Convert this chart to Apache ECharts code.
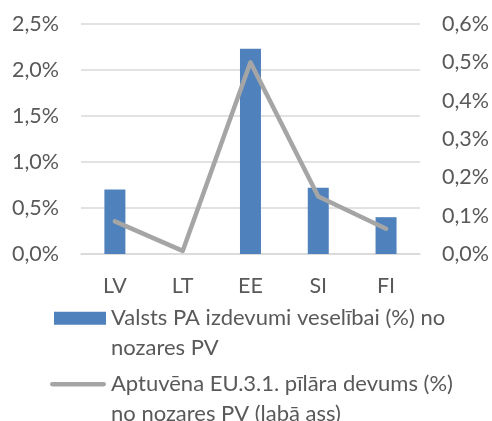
<!DOCTYPE html>
<html>
<head>
<meta charset="utf-8">
<script src="https://cdn.jsdelivr.net/npm/echarts@6/dist/echarts.min.js"></script>
<style>
  html, body { margin: 0; padding: 0; background: #fff; }
  #chart { width: 492px; height: 421px; }
</style>
</head>
<body>
<div id="chart"></div>
<script>
// Countries on the category axis
const categories = ['LV', 'LT', 'EE', 'SI', 'FI'];
// Public administration health spending, % of sector value added (left axis)
const healthSpending = [0.70, 0, 2.23, 0.72, 0.40];
// Approximate EU.3.1 pillar contribution, % of sector value added (right axis)
const pillarContribution = [0.085, 0.008, 0.50, 0.15, 0.066];
// Axis ranges and tick steps
const leftTicks = { min: 0, max: 2.5, interval: 0.5 };
const rightTicks = { min: 0, max: 0.6, interval: 0.1 };

const barName = 'Valsts PA izdevumi veselībai (%) no nozares PV';
const lineName = 'Aptuvēna EU.3.1. pīlāra devums (%) no nozares PV (labā ass)';
const barLabelLines = ['Valsts PA izdevumi veselībai (%) no', 'nozares PV'];
const lineLabelLines = ['Aptuvēna EU.3.1. pīlāra devums (%)', 'no nozares PV (labā ass)'];

const FONT = 'Lato';
const TEXT = '#595959';
const GRID = '#d9d9d9';
const BAR = '#4F81BD';
const LINE = '#A5A5A5';
const AXIS_SIZE = 21.5;
const LEGEND_SIZE = 22;
const fmtPct = v => v.toFixed(1).replace('.', ',') + '%';

// An empty first line keeps the icon level with the first text line
const legendText = lines => () => '\n' + lines.join('\n');
// Pill-shaped stroke for the line series key
const pillIcon = 'path://M2,0 H50 A2,2 0 0 1 50,4 H2 A2,2 0 0 1 2,0 Z';

const chart = echarts.init(document.getElementById('chart'), null, { renderer: 'canvas' });
chart.setOption({
  animation: false,
  textStyle: { fontFamily: FONT },
  grid: { left: 81, right: 72, top: 24, bottom: 167, containLabel: false },
  legend: [
    {
      data: [{ name: barName, icon: 'rect' }],
      left: 49, top: 269, orient: 'vertical',
      itemWidth: 52, itemHeight: 13,
      itemStyle: { color: BAR },
      formatter: legendText(barLabelLines),
      textStyle: { color: TEXT, fontSize: LEGEND_SIZE, lineHeight: 29.5, fontFamily: FONT }
    },
    {
      data: [{ name: lineName, icon: pillIcon }],
      left: 45, top: 335, orient: 'vertical',
      itemWidth: 56, itemHeight: 4.5,
      itemStyle: { color: LINE, borderWidth: 0 },
      lineStyle: { width: 0 },
      formatter: legendText(lineLabelLines),
      textStyle: { color: TEXT, fontSize: LEGEND_SIZE, lineHeight: 29.5, fontFamily: FONT }
    }
  ],
  xAxis: {
    type: 'category',
    data: categories,
    axisLine: { show: true, lineStyle: { color: GRID, width: 1.5 } },
    axisTick: { show: false },
    axisLabel: { color: TEXT, fontSize: AXIS_SIZE, margin: 21, fontFamily: FONT }
  },
  yAxis: [
    {
      type: 'value',
      min: leftTicks.min, max: leftTicks.max, interval: leftTicks.interval,
      axisLine: { show: false }, axisTick: { show: false },
      splitLine: { lineStyle: { color: GRID, width: 1.5 } },
      axisLabel: { color: TEXT, fontSize: AXIS_SIZE, margin: 22, formatter: fmtPct, fontFamily: FONT }
    },
    {
      type: 'value', position: 'right',
      min: rightTicks.min, max: rightTicks.max, interval: rightTicks.interval,
      axisLine: { show: false }, axisTick: { show: false },
      splitLine: { show: false },
      axisLabel: { color: TEXT, fontSize: AXIS_SIZE, margin: 22, formatter: fmtPct, fontFamily: FONT }
    }
  ],
  series: [
    {
      name: barName,
      type: 'bar',
      yAxisIndex: 0,
      data: healthSpending,
      barWidth: 21,
      itemStyle: { color: BAR }
    },
    {
      name: lineName,
      type: 'line',
      yAxisIndex: 1,
      data: pillarContribution,
      symbol: 'none',
      lineStyle: { color: LINE, width: 4.5, cap: 'round', join: 'round' },
      itemStyle: { color: LINE }
    }
  ]
});
</script>
</body>
</html>
